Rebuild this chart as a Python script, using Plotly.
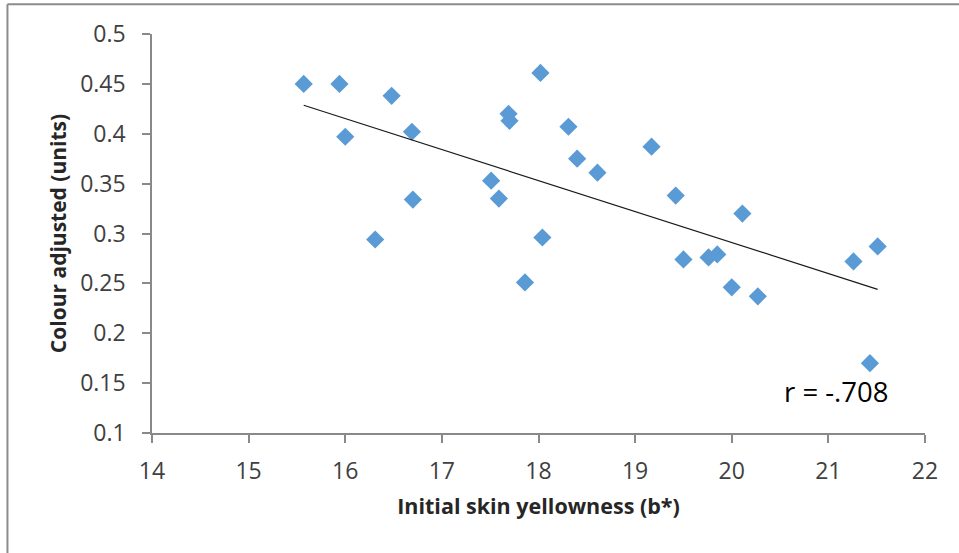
import numpy as np
import plotly.graph_objects as go

# Data
skin_yellowness = [15.57, 15.94, 16.00, 16.48, 16.69, 16.70, 16.31, 17.51, 17.59, 17.69,
                   17.70, 18.02, 18.04, 17.86, 18.31, 18.40, 18.61, 19.17, 19.42, 19.50,
                   19.76, 19.85, 20.00, 20.11, 20.27, 21.26, 21.51, 21.43]
colour_adjusted = [0.450, 0.450, 0.397, 0.438, 0.402, 0.334, 0.294, 0.353, 0.335, 0.420,
                   0.413, 0.461, 0.296, 0.251, 0.407, 0.375, 0.361, 0.387, 0.338, 0.274,
                   0.276, 0.279, 0.246, 0.320, 0.237, 0.272, 0.287, 0.170]
x_ticks = [14, 15, 16, 17, 18, 19, 20, 21, 22]
y_ticks = [0.1, 0.15, 0.2, 0.25, 0.3, 0.35, 0.4, 0.45, 0.5]
y_tick_labels = ["0.1", "0.15", "0.2", "0.25", "0.3", "0.35", "0.4", "0.45", "0.5"]
r_label = "r = -.708"
x_title = "Initial skin yellowness (b*)"
y_title = "Colour adjusted (units)"

# Linear trendline from the data
xs = np.array(skin_yellowness)
ys = np.array(colour_adjusted)
slope, intercept = np.polyfit(xs, ys, 1)
trend_x = [xs.min(), xs.max()]
trend_y = [slope * v + intercept for v in trend_x]

FONT = "Open Sans, Liberation Sans, sans-serif"
AXIS_COLOR = "#898989"

fig = go.Figure()
fig.add_trace(go.Scatter(
    x=skin_yellowness, y=colour_adjusted, mode="markers",
    marker=dict(symbol="diamond", size=14, color="#5B9BD5", line=dict(width=0)),
    showlegend=False, hoverinfo="x+y"))
fig.add_trace(go.Scatter(
    x=trend_x, y=trend_y, mode="lines",
    line=dict(color="#1a1a1a", width=1.2),
    showlegend=False, hoverinfo="skip"))

fig.add_annotation(x=20.52, y=0.142, xref="x", yref="y", text=r_label,
                   showarrow=False, xanchor="left", yanchor="middle",
                   font=dict(family=FONT, size=27.5, color="#000000"))

# Outer chart border (top and left edges visible in the reference)
fig.add_shape(type="line", xref="paper", yref="paper", x0=-0.187, x1=1.05, y0=1.0745, y1=1.0745,
              line=dict(color="#8c8c8c", width=2))
fig.add_shape(type="line", xref="paper", yref="paper", x0=-0.187, x1=-0.187, y0=-0.31, y1=1.0745,
              line=dict(color="#8c8c8c", width=2))

fig.update_layout(
    width=959, height=553,
    margin=dict(l=152, r=34, t=34, b=120, autoexpand=False),
    paper_bgcolor="white", plot_bgcolor="white",
    font=dict(family=FONT, color="#404040"),
    xaxis=dict(range=[14, 22], tickvals=x_ticks, showgrid=False, zeroline=False,
               showline=True, linecolor=AXIS_COLOR, linewidth=1.5,
               ticks="outside", ticklen=8, tickcolor=AXIS_COLOR, tickwidth=1.5,
               ticklabelstandoff=9,
               tickfont=dict(family=FONT, size=23, color="#404040"),
               title=dict(text="<b>" + x_title + "</b>", standoff=14,
                          font=dict(family=FONT, size=21.5, color="#262626"))),
    yaxis=dict(range=[0.1, 0.5], tickvals=y_ticks, ticktext=y_tick_labels,
               showgrid=False, zeroline=False,
               showline=True, linecolor=AXIS_COLOR, linewidth=1.5,
               ticks="outside", ticklen=8, tickcolor=AXIS_COLOR, tickwidth=1.5,
               ticklabelstandoff=12,
               tickfont=dict(family=FONT, size=23, color="#404040"),
               title=dict(text="<b>" + y_title + "</b>", standoff=8,
                          font=dict(family=FONT, size=21, color="#262626"))),
)

fig.write_html("out.html", config={"displayModeBar": False},
               post_script="document.body.style.margin='0px';")
